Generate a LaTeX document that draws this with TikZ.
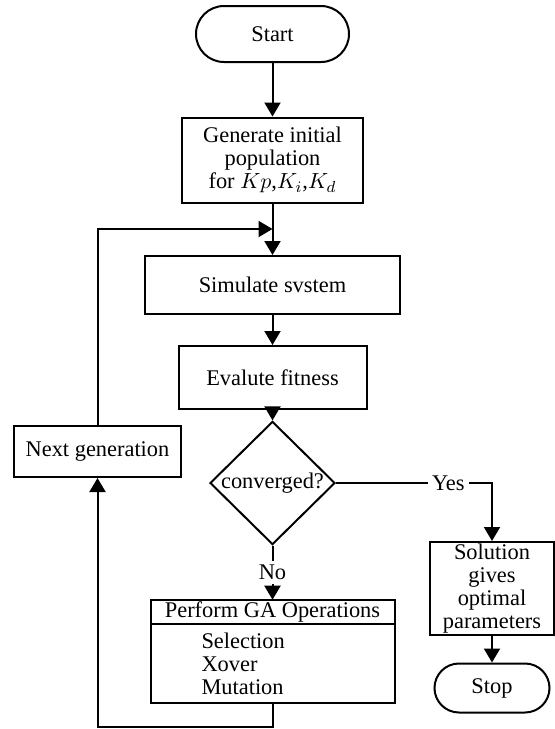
\documentclass[tikz,border=0pt]{standalone}
\usepackage{fontspec}
\setmainfont{Liberation Serif}
\usetikzlibrary{arrows.meta,shapes.geometric,positioning}
\begin{document}
\begin{tikzpicture}[x=0.5pt, y=-0.5pt, line width=1pt,
        every node/.style={font=\fontsize{11.2}{11.6}\selectfont},
        box/.style={draw, rectangle, align=center, inner sep=2pt},
        term/.style={draw, rectangle, rounded corners=#1, align=center},
        arr/.style={-{Triangle[length=7pt,width=8pt]}}]
        \useasboundingbox (0,0) rectangle (555,729);

        % Main column
        \node[term=14pt, minimum width=76.5pt, minimum height=28pt] (start) at (272.5,34) {Start};
        \node[box, minimum width=90.5pt, minimum height=42.5pt] (gen) at (272.5,160) {Generate initial\\population\\for $Kp$,$K_i$,$K_d$};
        \coordinate (join) at (272.5,229);
        \node[box, minimum width=127.5pt, minimum height=29pt] (sim) at (272.5,285) {Simulate svstem};
        \node[box, minimum width=94pt, minimum height=31.5pt] (eval) at (272.5,377.5) {Evalute fitness};
        \node[draw, diamond, minimum width=62.5pt, minimum height=52pt, inner sep=0pt] (conv) at (272.5,483) {converged?};

        % GA operations
        \node[box, outer sep=0pt, minimum width=122pt, minimum height=12pt, inner ysep=1pt] (perfhead) at (272.5,612) {Perform GA Operations};
        \node[box, outer sep=0pt, below=0pt of perfhead, minimum width=122pt, minimum height=39.5pt,
              text width=71pt, inner xsep=25.5pt, align=left] (perfbody) {Selection\\Xover\\Mutation};

        % Side nodes
        \node[box, minimum width=83.5pt, minimum height=25.5pt] (nextgen) at (97.5,451.5) {Next generation};
        \node[box, minimum width=62pt, minimum height=46.5pt, inner ysep=0pt] (sol) at (492,588.5) {Solution\\gives\\optimal\\parameters};
        \node[term=12.25pt, minimum width=57.5pt, minimum height=24.5pt] (stop) at (492,688) {Stop};

        % Connectors
        \draw[arr] (start) -- (gen);
        \draw[arr] (gen) -- (sim);
        \draw[arr] (sim) -- (eval);
        \draw[arr] (eval) -- (conv);
        \draw[arr] (conv) -| node[pos=0.36, fill=white, inner sep=2pt] {Yes} (sol);
        \draw[arr] (conv) -- node[fill=white, inner sep=2pt] {No} (perfhead);
        \draw[arr] (sol) -- (stop);
        \draw[arr] (perfbody.south) -- ++(0,24) -| (nextgen);
        \draw[arr] (nextgen) |- (join);
    \end{tikzpicture}
\end{document}
